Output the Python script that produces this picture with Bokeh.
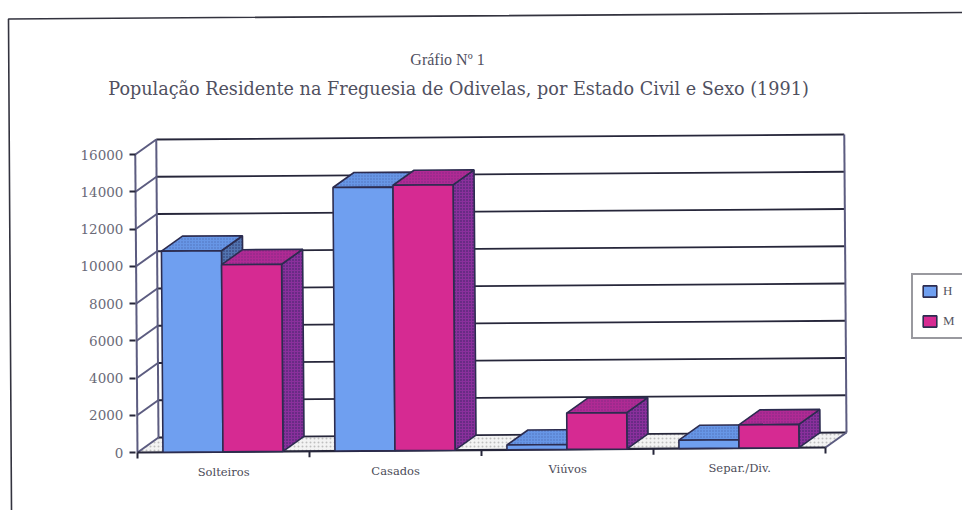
from bokeh.plotting import figure
from bokeh.embed import file_html
from bokeh.resources import INLINE
from bokeh.models import (LinearAxis, FixedTicker, Legend, LegendItem, Label, Range1d)
from bokeh.core.properties import value

categories = ["Solteiros", "Casados", "Viúvos", "Separ./Div."]
series_h = [10800, 14150, 260, 450]
series_m = [10050, 14250, 1950, 1250]
y_ticks = [0, 2000, 4000, 6000, 8000, 10000, 12000, 14000, 16000]
title_1 = "Gráfio Nº 1"
title_2 = "População Residente na Freguesia de Odivelas, por Estado Civil e Sexo (1991)"
legend_names = ["H", "M"]

W, H = 962, 510
PX_CAT = 172.0          # px per category
PX_VAL = 0.018625       # px per unit
X0, Y0 = 137.0, 452.0   # picture position of the origin
DEPTH_X = 21 / PX_CAT
DEPTH_Y = 15 / PX_VAL
SKEW_Y = 0.00726 * PX_CAT / PX_VAL   # the scan's slight rotation
SKEW_X = 0.0075 * PX_VAL / PX_CAT
GAP = 0.148
BAR = 0.349
SERIF = "DejaVu Serif"
TIMES = "Liberation Serif"


def proj(c, v, d=0.0):
    return (c + d * DEPTH_X - SKEW_X * v, v + d * DEPTH_Y + SKEW_Y * c)


def scr_y(page_y):
    return H - page_y


def page(px, py):
    return ((px - X0) / PX_CAT, (Y0 - py) / PX_VAL)


p = figure(width=W, height=H, output_backend="svg", toolbar_location=None,
           x_range=Range1d(-X0 / PX_CAT, (W - X0) / PX_CAT),
           y_range=Range1d((Y0 - H) / PX_VAL, Y0 / PX_VAL),
           x_axis_type=None, y_axis_type=None, min_border=0,
           outline_line_color=None, background_fill_color="white",
           border_fill_color="white")
p.grid.visible = False


def poly(points):
    return [q[0] for q in points], [q[1] for q in points]


# floor
fx, fy = poly([proj(0, 0), proj(4, 0), proj(4, 0, 1), proj(0, 0, 1)])
p.patch(fx, fy, fill_color="#f3f3f3", line_color=None, hatch_pattern="dot",
        hatch_color="#aaaaaa", hatch_scale=4, hatch_alpha=0.7)

# back wall gridlines and left wall diagonals
top = y_ticks[-1]
gx, gy = [], []
for t in y_ticks:
    a, b = proj(0, t, 1), proj(4, t, 1)
    gx.append([a[0], b[0]])
    gy.append([a[1], b[1]])
p.multi_line(gx, gy, line_color="#26263a", line_width=1.8)
dx, dy = [], []
for t in y_ticks:
    a, b = proj(0, t, 0), proj(0, t, 1)
    dx.append([a[0], b[0]])
    dy.append([a[1], b[1]])
p.multi_line(dx, dy, line_color="#5c5c80", line_width=2)

# wall frame lines
frames = [
    [proj(0, 0, 0), proj(0, top, 0)],
    [proj(0, 0, 1), proj(0, top, 1)],
    [proj(4, 0, 1), proj(4, top, 1)],
    [proj(4, 0, 0), proj(4, 0, 1)],
]
p.multi_line([[q[0] for q in f] for f in frames], [[q[1] for q in f] for f in frames],
             line_color="#5c5c80", line_width=2)

# x axis line with ticks
xl = poly([proj(0, 0), proj(4, 0)])
p.line(xl[0], xl[1], line_color="#26263a", line_width=2.2)
tx, ty = [], []
for c in range(len(categories) + 1):
    q = proj(c, 0)
    tx.append([q[0], q[0]])
    ty.append([q[1], q[1] - 6 / PX_VAL])
p.multi_line(tx, ty, line_color="#26263a", line_width=2)


# bars
def faces(vals, offset):
    front, side, topf = ([], []), ([], []), ([], [])
    for c, v in enumerate(vals):
        l = c + GAP + offset * BAR
        r = l + BAR
        a = poly([proj(l, 0), proj(r, 0), proj(r, v), proj(l, v)])
        b = poly([proj(r, 0), proj(r, 0, 1), proj(r, v, 1), proj(r, v)])
        t = poly([proj(l, v), proj(r, v), proj(r, v, 1), proj(l, v, 1)])
        for dest, src in ((front, a), (side, b), (topf, t)):
            dest[0].append(src[0])
            dest[1].append(src[1])
    return front, side, topf


OUT = "#2c2c50"
renderers = []
for vals, off, cf, cs, ct in ((series_h, 0, "#6f9ff0", "#5274b0", "#6796e6"),
                              (series_m, 1, "#d62a92", "#8a309c", "#b02a94")):
    fr, si, tp = faces(vals, off)
    p.patches(si[0], si[1], fill_color=cs, line_color=OUT, line_width=1.6,
              hatch_pattern="dot", hatch_color="#1c1c50", hatch_scale=3, hatch_alpha=0.75)
    p.patches(tp[0], tp[1], fill_color=ct, line_color=OUT, line_width=1.6,
              hatch_pattern="dot", hatch_color="#2a2a60", hatch_scale=3, hatch_alpha=0.35)
    renderers.append(p.patches(fr[0], fr[1], fill_color=cf, line_color=OUT, line_width=1.6))

# y axis (labels and ticks)
yax = LinearAxis(fixed_location=-0.012, ticker=FixedTicker(ticks=y_ticks),
                 bounds=(0, top), axis_line_color=None,
                 major_tick_in=0, major_tick_out=6, major_tick_line_color="#26263a",
                 major_tick_line_width=2, minor_tick_line_color=None,
                 major_label_standoff=6,
                 major_label_text_font=SERIF, major_label_text_font_size="13.5px",
                 major_label_text_color="#6a6a78")
p.add_layout(yax, "left")

# category labels
lab_x, lab_y = [], []
for c in range(len(categories)):
    q = proj(c + 0.5, -20 / PX_VAL)
    lab_x.append(q[0])
    lab_y.append(q[1])
p.text(lab_x, lab_y, text=categories, text_align="center", text_baseline="middle",
       text_font=value(SERIF), text_font_size="11.5px", text_color="#4c4c58")

# titles
p.add_layout(Label(x=447, y=scr_y(59), x_units="screen", y_units="screen", text=title_1,
                   text_align="center", text_baseline="middle", text_font=TIMES,
                   text_font_size="16px", text_color="#50505f"))
p.add_layout(Label(x=458, y=scr_y(88), x_units="screen", y_units="screen", text=title_2,
                   text_align="center", text_baseline="middle", text_font=SERIF,
                   text_font_size="17.6px", text_color="#50505f"))

# scanned page border
bx, by = poly([page(11, 510), page(8, 18.5), page(962, 12)])
p.line(bx, by, line_color="#33333f", line_width=1.6)

# legend
leg = Legend(items=[LegendItem(label=n, renderers=[r]) for n, r in zip(legend_names, renderers)],
             location=(911, H - 339), orientation="vertical",
             border_line_color="#33333f", border_line_width=2, background_fill_color="white",
             padding=8, margin=0, spacing=14, glyph_width=17, glyph_height=14, label_standoff=5,
             label_height=15, label_width=14, label_text_font=TIMES, label_text_font_size="13px",
             label_text_color="#55555f")
p.add_layout(leg)

open("out.html", "w").write(file_html(p, INLINE))
